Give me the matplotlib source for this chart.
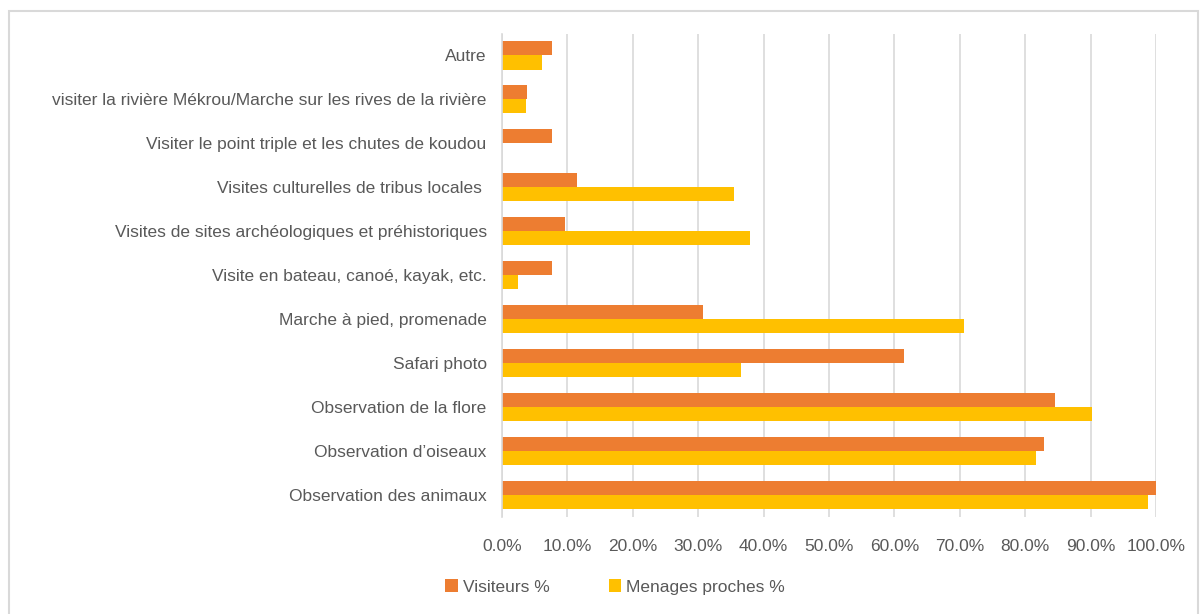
"""Horizontal bar chart: activities wanted by visitors vs nearby households."""

import matplotlib

matplotlib.use("Agg")
import matplotlib.pyplot as plt
import numpy as np
from matplotlib.patches import Rectangle
from matplotlib.ticker import FuncFormatter

categories = [
    "Observation des animaux",
    "Observation d\u2019oiseaux",
    "Observation de la flore",
    "Safari photo",
    "Marche \u00e0 pied, promenade",
    "Visite en bateau, cano\u00e9, kayak, etc.",
    "Visites de sites arch\u00e9ologiques et pr\u00e9historiques",
    "Visites culturelles de tribus locales ",
    "Visiter le point triple et les chutes de koudou",
    "visiter la rivi\u00e8re M\u00e9krou/Marche sur les rives de la rivi\u00e8re",
    "Autre",
]
visiteurs = [100.0, 82.8, 84.6, 61.5, 30.8, 7.7, 9.6, 11.5, 7.7, 3.8, 7.7]
menages = [98.8, 81.6, 90.2, 36.5, 70.7, 2.5, 37.9, 35.5, 0.0, 3.6, 6.1]

ORANGE = "#ED7D31"
YELLOW = "#FFC000"
TEXT = "#595959"
GRID = "#D9D9D9"

plt.rcParams["font.family"] = ["Liberation Sans", "DejaVu Sans"]

fig = plt.figure(figsize=(12.03, 6.14), dpi=100)
ax = fig.add_axes([502 / 1203, 1 - 517 / 614, (1156 - 502) / 1203, (517 - 33.5) / 614])

y = np.arange(len(categories))
h = 0.32
ax.barh(y + h / 2, visiteurs, height=h, color=ORANGE, label="Visiteurs %", zorder=3)
ax.barh(y - h / 2, menages, height=h, color=YELLOW, label="Menages proches %", zorder=3)

ax.set_xlim(0, 100)
ax.set_ylim(-0.5, len(categories) - 0.5)
ax.set_xticks(np.arange(0, 101, 10))
ax.xaxis.set_major_formatter(FuncFormatter(lambda v, _: f"{v:.1f}%"))
ax.set_yticks(y)
ax.set_yticklabels(categories)
ax.tick_params(axis="both", length=0, labelsize=12.5, colors=TEXT)
ax.tick_params(axis="y", pad=11)
ax.tick_params(axis="x", pad=16)
ax.grid(axis="x", color=GRID, linewidth=1.2, zorder=0)
for side in ("top", "right", "bottom"):
    ax.spines[side].set_visible(False)
ax.spines["left"].set_color(GRID)
ax.spines["left"].set_linewidth(1.2)
ax.spines["left"].set_zorder(4)

ax.legend(
    loc="center",
    bbox_to_anchor=(615 / 1203, 1 - 587 / 614),
    bbox_transform=fig.transFigure,
    ncol=2,
    frameon=False,
    fontsize=12.5,
    labelcolor=TEXT,
    handlelength=0.7,
    handleheight=0.7,
    handletextpad=0.3,
    columnspacing=3.4,
)

# light chart-area frame
fig.patches.append(
    Rectangle((8.5 / 1203, -0.05), (1198 - 8.5) / 1203, 1.05 - 10.5 / 614,
              transform=fig.transFigure, fill=False, edgecolor=GRID, linewidth=1.5)
)

fig.savefig("out.png", dpi=100)
